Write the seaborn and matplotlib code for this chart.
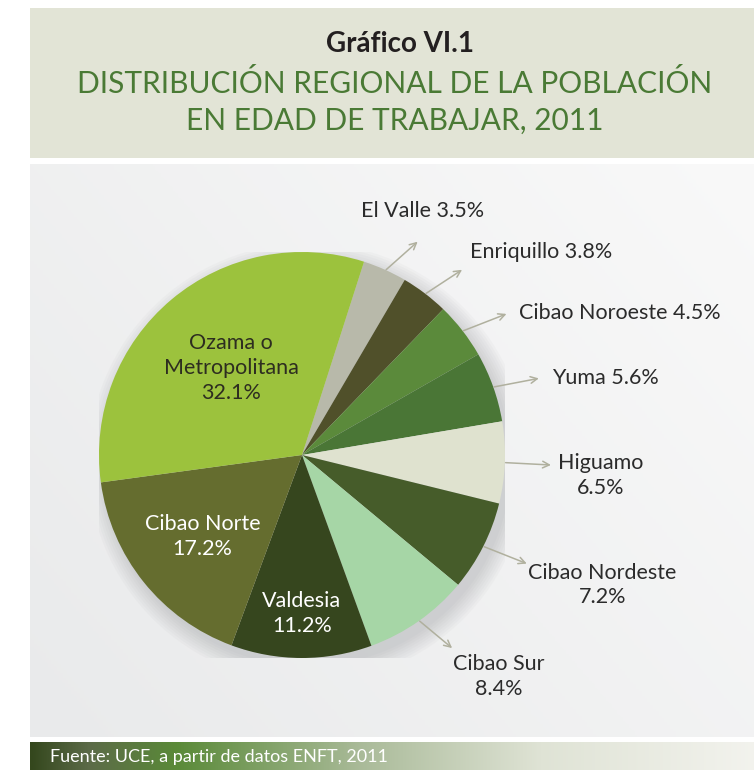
import numpy as np
import matplotlib.pyplot as plt
import seaborn as sns
from matplotlib.colors import LinearSegmentedColormap
from matplotlib.patches import Rectangle, Circle

# Datos del gráfico
regiones = ["El Valle", "Enriquillo", "Cibao Noroeste", "Yuma", "Higuamo",
            "Cibao Nordeste", "Cibao Sur", "Valdesia", "Cibao Norte",
            "Ozama o\nMetropolitana"]
porcentajes = [3.5, 3.8, 4.5, 5.6, 6.5, 7.2, 8.4, 11.2, 17.2, 32.1]
colores = ["#b8b9aa", "#50502a", "#5b8a3b", "#4a7636", "#dfe2cf",
           "#465c2a", "#a6d6a6", "#36461e", "#656d2f", "#9cc23d"]

sns.set_theme(style="white")
plt.rcParams["font.family"] = ["Lato", "DejaVu Sans"]

fig = plt.figure(figsize=(7.54, 7.70), dpi=100)
fig.patch.set_facecolor("white")

# Fondo en coordenadas de pixel
bg = fig.add_axes([0, 0, 1, 1])
bg.set_xlim(0, 754)
bg.set_ylim(770, 0)
bg.axis("off")

bg.add_patch(Rectangle((30, 8), 730, 150, color="#e2e4d6", lw=0))
grad = np.linspace(0, 1, 256)
gx, gy = np.meshgrid(grad, grad)
panel_cmap = LinearSegmentedColormap.from_list("panel", ["#e9eaeb", "#f9f9f9"])
bg.imshow(gx * 0.6 + (1 - gy) * 0.4, cmap=panel_cmap, extent=(30, 760, 737, 164),
          aspect="auto", zorder=1)
foot_cmap = LinearSegmentedColormap.from_list(
    "foot", [(0, "#34471d"), (0.08, "#5c6b48"), (0.2, "#5a8a38"),
             (0.45, "#a9ba98"), (0.7, "#dfe3d5"), (1, "#f3f3ee")])
bg.imshow(grad[None, :], cmap=foot_cmap, extent=(30, 760, 770, 742),
          aspect="auto", zorder=1)

bg.text(400, 44, "Gráfico VI.1", ha="center", va="center", fontsize=20,
        fontweight="bold", color="#231f20", zorder=3)
bg.text(395, 102, "DISTRIBUCIÓN REGIONAL DE LA POBLACIÓN\nEN EDAD DE TRABAJAR, 2011",
        ha="center", va="center", fontsize=21.5, color="#4a7a35", linespacing=1.35,
        zorder=3)
bg.text(50, 757, "Fuente: UCE, a partir de datos ENFT, 2011", ha="left", va="center",
        fontsize=13, color="white", zorder=3)

# Gráfico de pastel
ax = fig.add_axes([(302 - 203) / 754, (770 - 455 - 203) / 770, 406 / 754, 406 / 770])
for k in range(8):
    ax.add_patch(Circle((0.03, -0.04), 1.0 + k * 0.012, color="#8a8c90",
                        alpha=0.045, lw=0, zorder=0))
wedges, _ = ax.pie(porcentajes, colors=colores, startangle=72.2, counterclock=False,
                   radius=1, wedgeprops=dict(linewidth=0))
for w in wedges:
    w.set_zorder(2)
ax.set_xlim(-1, 1)
ax.set_ylim(-1, 1)

# Etiquetas externas con flechas
fuera = [(0.58, 1.06, 0.29, 1.20, "left"),
         (0.80, 0.92, 0.83, 1.00, "left"),
         (1.02, 0.70, 1.07, 0.70, "left"),
         (1.18, 0.38, 1.23, 0.38, "left"),
         (1.24, -0.05, 1.47, -0.10, "center"),
         (1.12, -0.54, 1.48, -0.64, "center"),
         (0.75, -0.96, 0.97, -1.09, "center")]
for i, (ex, ey, tx, ty, ha) in enumerate(fuera):
    ang = np.deg2rad((wedges[i].theta1 + wedges[i].theta2) / 2)
    ax.annotate("", xy=(ex, ey), xytext=(np.cos(ang) * 0.99, np.sin(ang) * 0.99),
                arrowprops=dict(arrowstyle="->", color="#b0b09e", lw=1.1),
                annotation_clip=False, zorder=3)
    sep = " " if ha == "left" else "\n"
    ax.text(tx, ty, f"{regiones[i]}{sep}{porcentajes[i]}%", ha=ha, va="center",
            fontsize=15.5, color="#2b2b2b", linespacing=1.3,
            clip_on=False, zorder=3)

# Etiquetas internas
dentro = [(7, 0.0, -0.78, "white"), (8, -0.49, -0.40, "white"),
          (9, -0.35, 0.43, "#2d2d20")]
for i, tx, ty, c in dentro:
    ax.text(tx, ty, f"{regiones[i]}\n{porcentajes[i]}%", ha="center", va="center",
            fontsize=15.5, color=c, linespacing=1.3, zorder=3)

plt.savefig("out.png", dpi=100)
